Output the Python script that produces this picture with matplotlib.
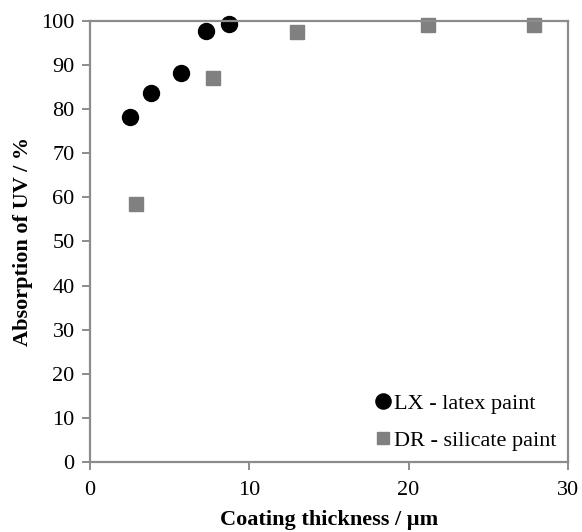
import matplotlib.pyplot as plt

plt.rcParams['font.family'] = ['Liberation Serif', 'DejaVu Serif']

# LX - latex paint
lx_thickness = [2.5, 3.8, 5.7, 7.3, 8.7]
lx_absorption = [78.2, 83.6, 88.2, 97.8, 99.3]

# DR - silicate paint
dr_thickness = [2.9, 7.7, 13.0, 21.2, 27.9]
dr_absorption = [58.5, 87.0, 97.5, 99.0, 99.1]

x_ticks = [0, 10, 20, 30]
y_ticks = list(range(0, 101, 10))

fig = plt.figure(figsize=(5.82, 5.32), dpi=100)
ax = fig.add_axes([0.1546, 0.1316, 0.821, 0.829])

ax.plot(lx_thickness, lx_absorption, 'o', color='black', markersize=11.5,
        label='LX - latex paint', clip_on=False)
ax.plot(dr_thickness, dr_absorption, 's', color='#808080', markersize=9.5,
        label='DR - silicate paint', clip_on=False)

ax.set_xlim(0, 30)
ax.set_ylim(0, 100)
ax.set_xticks(x_ticks)
ax.set_yticks(y_ticks)

for sp in ax.spines.values():
    sp.set_color('#8c8c8c')
    sp.set_linewidth(1.6)

ax.tick_params(axis='both', colors='#8c8c8c', labelcolor='black', labelsize=16,
               width=1.4, length=6, direction='out')
ax.tick_params(axis='x', pad=8)
ax.tick_params(axis='y', pad=5)

ax.set_xlabel('Coating thickness / µm', fontsize=16, fontweight='bold', labelpad=7)
ax.set_ylabel('Absorption of UV / %', fontsize=16, fontweight='bold', labelpad=6)

ax.legend(loc='lower right', frameon=False, fontsize=16, handletextpad=0.0,
          labelspacing=0.75, borderaxespad=0.1, handlelength=1.0,
          markerscale=0.95)

fig.savefig('out.png', dpi=100)
